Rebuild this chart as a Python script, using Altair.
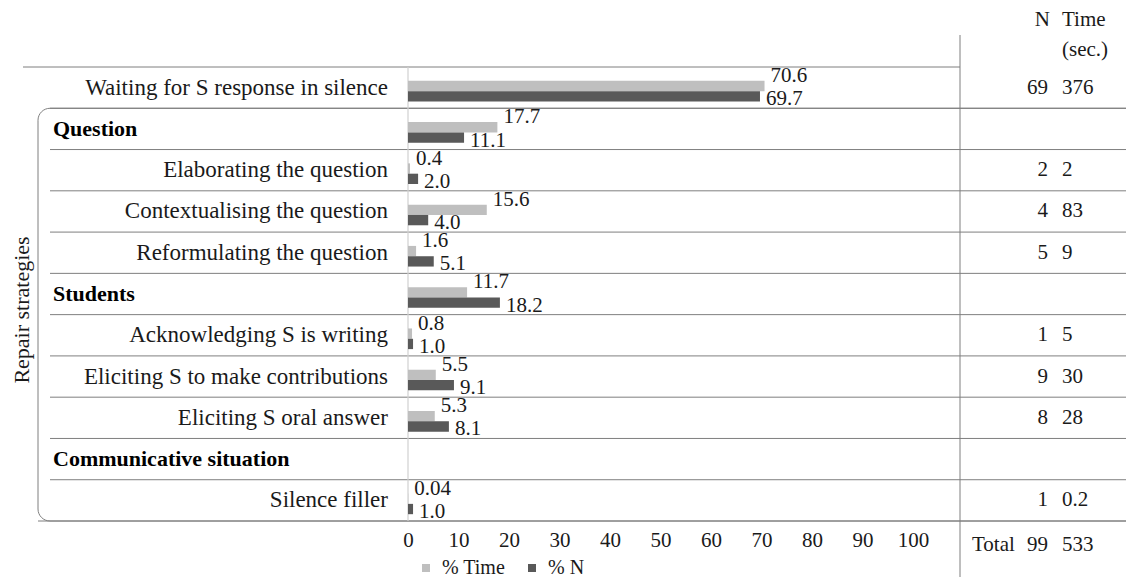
import altair as alt
import pandas as pd

# ---------------- data ----------------
rows = [
    "Waiting for S response in silence",
    "Question",
    "Elaborating the question",
    "Contextualising the question",
    "Reformulating the question",
    "Students",
    "Acknowledging S is writing",
    "Eliciting S to make contributions",
    "Eliciting S oral answer",
    "Communicative situation",
    "Silence filler",
]
is_header = [False, True, False, False, False, True, False, False, False, True, False]
pct_time = [70.6, 17.7, 0.4, 15.6, 1.6, 11.7, 0.8, 5.5, 5.3, None, 0.04]
pct_n = [69.7, 11.1, 2.0, 4.0, 5.1, 18.2, 1.0, 9.1, 8.1, None, 1.0]
n_count = ["69", "", "2", "4", "5", "", "1", "9", "8", "", "1"]
time_sec = ["376", "", "2", "83", "9", "", "5", "30", "28", "", "0.2"]
total_n = "99"
total_time = "533"
x_ticks = [0, 10, 20, 30, 40, 50, 60, 70, 80, 90, 100]
series_names = ["% Time", "% N"]

# ---------------- style ----------------
W, H = 505, 454
FONT = "Times New Roman, Liberation Serif, Tinos, DejaVu Serif, serif"
LIGHT, DARK = "#bfbfbf", "#595959"
LINE = "#7f7f7f"
TXT = "#1a1a1a"
FS = 21


def fmt(v):
    return f"{v:.2f}" if v < 0.1 else f"{v:.1f}"


bar_records = []
for r, a, b in zip(rows, pct_time, pct_n):
    if a is not None:
        bar_records.append({"row": r, "series": "% Time", "value": a, "label": fmt(a)})
    if b is not None:
        bar_records.append({"row": r, "series": "% N", "value": b, "label": fmt(b)})
bar_df = pd.DataFrame(bar_records)
row_df = pd.DataFrame({"row": rows, "header": is_header, "n": n_count, "t": time_sec})
one = pd.DataFrame({"k": [0]})

y_scale = alt.Scale(domain=rows, paddingInner=0, paddingOuter=0)
off_scale = alt.Scale(domain=series_names, paddingInner=0, paddingOuter=1.0, align=0.67)
x_scale = alt.Scale(domain=[0, 100], nice=False, zero=True)

Y = lambda **kw: alt.Y("row:N", scale=y_scale, axis=None, **kw)

bars = alt.Chart(bar_df).mark_bar().encode(
    x=alt.X(
        "value:Q",
        scale=x_scale,
        axis=alt.Axis(
            values=x_ticks, title=None, grid=False, ticks=False, tickSize=0,
            domain=False, labelFont=FONT, labelFontSize=FS, labelColor=TXT,
            labelPadding=8, labelFlush=False, labelOverlap=False,
        ),
    ),
    y=Y(),
    yOffset=alt.YOffset("series:N", scale=off_scale),
    color=alt.Color(
        "series:N",
        scale=alt.Scale(domain=series_names, range=[LIGHT, DARK]),
        legend=alt.Legend(
            orient="none", legendX=8, legendY=491, direction="horizontal",
            title=None, symbolType="square", symbolSize=64, symbolStrokeWidth=0,
            labelFont=FONT, labelFontSize=20, labelColor=TXT, columnPadding=16,
            labelOffset=6, padding=0,
        ),
    ),
)

lab_time = alt.Chart(bar_df).transform_filter(alt.datum.series == "% Time").mark_text(
    align="left", baseline="middle", dx=6, dy=-10, font=FONT, fontSize=21, color=TXT
).encode(x=alt.X("value:Q", scale=x_scale), y=Y(),
         yOffset=alt.YOffset("series:N", scale=off_scale), text="label:N")

lab_n = alt.Chart(bar_df).transform_filter(alt.datum.series == "% N").mark_text(
    align="left", baseline="middle", dx=6, dy=3, font=FONT, fontSize=21, color=TXT
).encode(x=alt.X("value:Q", scale=x_scale), y=Y(),
         yOffset=alt.YOffset("series:N", scale=off_scale), text="label:N")

row_labels = alt.Chart(row_df).transform_filter("!datum.header").mark_text(
    align="right", baseline="middle", font=FONT, fontSize=23, color=TXT
).encode(y=Y(), x=alt.value(-20), text="row:N")

head_labels = alt.Chart(row_df).transform_filter("datum.header").mark_text(
    align="left", baseline="middle", font=FONT, fontSize=22, fontWeight="bold", color="#000"
).encode(y=Y(), x=alt.value(-355), text="row:N")

n_col = alt.Chart(row_df).mark_text(
    align="right", baseline="middle", font=FONT, fontSize=FS, color=TXT
).encode(y=Y(), x=alt.value(640), text="n:N")

t_col = alt.Chart(row_df).mark_text(
    align="left", baseline="middle", font=FONT, fontSize=FS, color=TXT
).encode(y=Y(), x=alt.value(654), text="t:N")

# row separator lines
inner_lines = alt.Chart(row_df.iloc[1:]).mark_rule(color=LINE, strokeWidth=1).encode(
    y=Y(bandPosition=0), x=alt.value(-358), x2=alt.value(730))
bottom_line = alt.Chart(row_df.iloc[-1:]).mark_rule(color=LINE, strokeWidth=1).encode(
    y=Y(bandPosition=1), x=alt.value(-370), x2=alt.value(730))
top_line = alt.Chart(row_df.iloc[:1]).mark_rule(color=LINE, strokeWidth=1).encode(
    y=Y(bandPosition=0), x=alt.value(-385), x2=alt.value(552))

bracket = alt.Chart(one).mark_rect(
    fillOpacity=0, stroke=LINE, strokeWidth=1, cornerRadius=12
).encode(x=alt.value(-370), x2=alt.value(760), y=alt.value(H / 11), y2=alt.value(H))

separator = alt.Chart(one).mark_rule(color=LINE, strokeWidth=1).encode(
    x=alt.value(552), y=alt.value(-32), y2=alt.value(511))

zero_line = alt.Chart(one).mark_rule(color="#d0d0d0", strokeWidth=1.2).encode(
    x=alt.value(0), y=alt.value(0), y2=alt.value(H))


def label(text, x, y, align="left", angle=0, size=FS):
    kw = dict(align=align, baseline="middle", font=FONT, fontSize=size, color=TXT)
    if angle:
        kw["angle"] = angle
    return alt.Chart(one).mark_text(**kw).encode(
        x=alt.value(x), y=alt.value(y), text=alt.value(text))


extras = [
    label("N", 642, -47, "right"),
    label("Time", 654, -47),
    label("(sec.)", 654, -17),
    label("Total", 564, 478),
    label(total_n, 640, 478, "right"),
    label(total_time, 654, 478),
    label("Repair strategies", -386, 243, "center", 270, 22),
]

chart = alt.layer(
    bracket, top_line, inner_lines, bottom_line, separator, zero_line,
    bars, lab_time, lab_n, row_labels, head_labels, n_col, t_col, *extras
).properties(
    width=W, height=H,
    padding={"left": 400, "top": 59, "right": 213, "bottom": 56},
    autosize=alt.AutoSizeParams(type="none"),
).configure_view(stroke=None)

chart.save("out.html", embed_options={"renderer": "svg", "actions": False})
